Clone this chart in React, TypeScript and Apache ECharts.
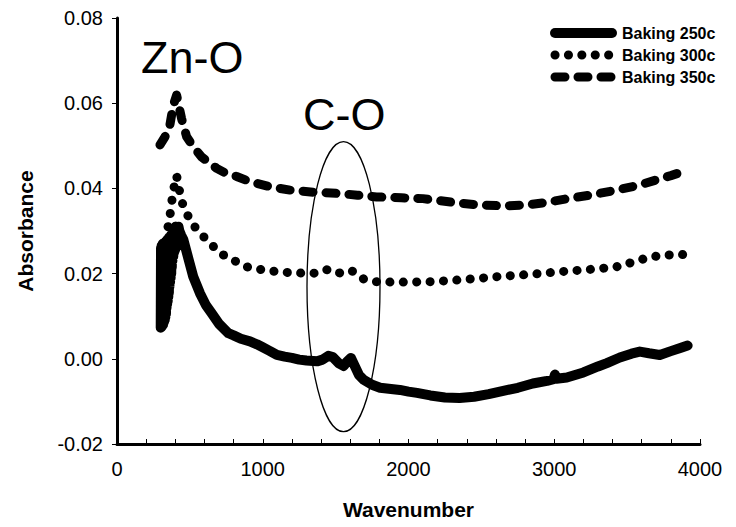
import React, { useEffect, useRef } from "react";
import * as echarts from "echarts";

const FONT = "'Liberation Sans', Arial, Helvetica, sans-serif";

const seriesNames = ["Baking 250c", "Baking 300c", "Baking 350c"];
const xRange = [0, 4000];
const yRange = [-0.02, 0.08];
const xTickStep = 1000;
const yTickStep = 0.02;
const annotationLabels = ["Zn-O", "C-O"];

// Baking 250c (wavenumber, absorbance)
const baking250: [number, number][] = [
  [300, 0.0073], [302, 0.026], [304, 0.0074], [306, 0.0265], [308, 0.0076], [310, 0.026],
  [312, 0.0078], [314, 0.027], [316, 0.008], [318, 0.0265], [320, 0.0085], [322, 0.027],
  [324, 0.0088], [326, 0.0265], [328, 0.0092], [330, 0.027], [332, 0.0098], [334, 0.0275],
  [336, 0.0105], [338, 0.027], [340, 0.012], [342, 0.0275], [344, 0.0128], [346, 0.028],
  [348, 0.0135], [350, 0.0275], [352, 0.0145], [354, 0.028], [356, 0.0155], [358, 0.0285],
  [360, 0.017], [362, 0.028], [364, 0.018], [366, 0.0285], [368, 0.019], [370, 0.029],
  [372, 0.02], [374, 0.0285], [376, 0.0215], [378, 0.029], [380, 0.023], [383, 0.0295],
  [386, 0.024], [389, 0.03], [392, 0.025], [395, 0.0305], [398, 0.0255], [401, 0.031],
  [404, 0.026], [407, 0.031], [410, 0.027], [414, 0.0305], [418, 0.029], [422, 0.031],
  [428, 0.030], [440, 0.029], [455, 0.028], [490, 0.0235], [523, 0.0193], [569, 0.0154],
  [610, 0.0126], [649, 0.0107], [700, 0.0082], [764, 0.006], [800, 0.0055],
  [850, 0.0047], [912, 0.0041], [960, 0.0034], [1000, 0.0027], [1050, 0.0018], [1097, 0.0009],
  [1150, 0.0005], [1200, 0.0002], [1250, -0.0002], [1300, -0.0004], [1372, -0.0006],
  [1410, -0.0002], [1450, 0.0007], [1480, 0.0004], [1520, -0.001], [1555, -0.0017],
  [1580, -0.0006], [1605, 0.0002], [1630, -0.0016], [1660, -0.0038], [1692, -0.0049],
  [1750, -0.0061], [1805, -0.0068], [1880, -0.0071], [1941, -0.0073], [2000, -0.0077],
  [2058, -0.008], [2150, -0.0086], [2250, -0.0091], [2350, -0.0092], [2450, -0.0089],
  [2550, -0.0083], [2627, -0.0077], [2750, -0.0068], [2853, -0.0058], [2950, -0.0052],
  [2995, -0.0048], [3005, -0.0037], [3015, -0.0047], [3086, -0.0044], [3200, -0.0032],
  [3300, -0.0018], [3361, -0.001], [3450, 0.0003], [3530, 0.0012], [3587, 0.0017],
  [3650, 0.0013], [3724, 0.0009], [3800, 0.0018], [3870, 0.0026], [3915, 0.0031],
];

// Baking 300c
const baking300: [number, number][] = [
  [350, 0.031], [365, 0.034], [380, 0.038], [395, 0.041], [409, 0.043], [425, 0.040],
  [455, 0.0357], [512, 0.0319], [569, 0.0295], [638, 0.0272], [706, 0.0248], [796, 0.0232],
  [889, 0.0216], [1027, 0.0207], [1187, 0.0202], [1300, 0.0201], [1372, 0.0201],
  [1448, 0.021], [1500, 0.0203], [1541, 0.0201], [1610, 0.0207], [1650, 0.0196],
  [1694, 0.0187], [1781, 0.0181], [1900, 0.018], [2000, 0.018], [2147, 0.0181],
  [2300, 0.0184], [2490, 0.0189], [2650, 0.0194], [2833, 0.0198], [3059, 0.0205],
  [3290, 0.0211], [3427, 0.0216], [3500, 0.0223], [3564, 0.023], [3630, 0.0236],
  [3701, 0.0241], [3800, 0.0244], [3915, 0.0245],
];

// Baking 350c
const baking350: [number, number][] = [
  [295, 0.0502], [329, 0.0521], [363, 0.0549], [386, 0.0595], [409, 0.0619], [443, 0.0564],
  [478, 0.0521], [523, 0.0498], [580, 0.0474], [684, 0.0447], [750, 0.0435], [821, 0.0428],
  [912, 0.0416], [1049, 0.0404], [1187, 0.0396], [1350, 0.0391], [1530, 0.0388],
  [1650, 0.0384], [1781, 0.038], [1950, 0.0378], [2099, 0.0376], [2200, 0.0372],
  [2330, 0.0366], [2490, 0.0361], [2650, 0.0359], [2810, 0.0361], [2947, 0.0367],
  [3107, 0.0377], [3244, 0.0384], [3427, 0.0396], [3587, 0.0408], [3701, 0.042],
  [3800, 0.043], [3915, 0.0443],
];

export default function App() {
  const ref = useRef<HTMLDivElement>(null);
  useEffect(() => {
    if (!ref.current) return;
    const chart = echarts.init(ref.current, undefined, { renderer: "svg" });
    const common = {
      type: "line" as const,
      symbol: "none",
      smooth: false,
      silent: true,
      color: "#000",
    };
    chart.setOption({
      animation: false,
      backgroundColor: "#fff",
      grid: { left: 117, right: 36, top: 18, bottom: 83, containLabel: false },
      xAxis: {
        type: "value",
        min: xRange[0],
        max: xRange[1],
        interval: xTickStep,
        name: "Wavenumber",
        nameLocation: "middle",
        nameGap: 55,
        nameTextStyle: { fontFamily: FONT, fontSize: 21, fontWeight: "bold", color: "#000" },
        axisLine: { onZero: false, lineStyle: { color: "#000", width: 3 } },
        axisTick: { inside: true, length: 5, lineStyle: { color: "#000", width: 1 } },
        minorTick: { show: true, splitNumber: 5, length: 5, lineStyle: { color: "#000", width: 1 } },
        splitLine: { show: false },
        axisLabel: {
          margin: 15,
          fontFamily: FONT,
          fontSize: 20,
          color: "#000",
          formatter: (v: number) => String(Math.round(v)),
        },
      },
      yAxis: {
        type: "value",
        min: yRange[0],
        max: yRange[1],
        interval: yTickStep,
        name: "Absorbance",
        nameLocation: "middle",
        nameGap: 81,
        nameTextStyle: { fontFamily: FONT, fontSize: 21, fontWeight: "bold", color: "#000" },
        axisLine: { onZero: false, lineStyle: { color: "#000", width: 3 } },
        axisTick: { inside: false, length: 5, lineStyle: { color: "#000", width: 1 } },
        splitLine: { show: false },
        axisLabel: {
          margin: 14,
          fontFamily: FONT,
          fontSize: 20,
          color: "#000",
          formatter: (v: number) => (Math.abs(v) < 1e-9 ? 0 : v).toFixed(2),
        },
      },
      legend: {
        orient: "vertical",
        left: 550,
        top: 25,
        padding: 0,
        itemWidth: 57,
        itemHeight: 16,
        itemGap: 6,
        selectedMode: false,
        data: seriesNames,
        lineStyle: { width: "inherit" },
        itemStyle: { color: "rgba(0,0,0,0)", borderWidth: 0, opacity: 0 },
        textStyle: { fontFamily: FONT, fontSize: 16, fontWeight: "bold", color: "#000", padding: [0, 0, 0, 5] },
      },
      series: [
        {
          ...common,
          name: seriesNames[0],
          data: baking250,
          lineStyle: { color: "#000", width: 10, type: "solid", cap: "round", join: "round" },
        },
        {
          ...common,
          name: seriesNames[1],
          data: baking300,
          lineStyle: { color: "#000", width: 9, type: [0.1, 13.3], cap: "round", join: "round" },
        },
        {
          ...common,
          name: seriesNames[2],
          data: baking350,
          lineStyle: { color: "#000", width: 9, type: [10, 13], cap: "round", join: "round" },
        },
      ],
      graphic: [
        {
          type: "text",
          x: 141,
          y: 57,
          z: 10,
          style: {
            text: annotationLabels[0],
            font: `45px ${FONT}`,
            fill: "#000",
            textAlign: "left",
            textVerticalAlign: "middle",
          },
        },
        {
          type: "text",
          x: 303,
          y: 114,
          z: 10,
          style: {
            text: annotationLabels[1],
            font: `45px ${FONT}`,
            fill: "#000",
            textAlign: "left",
            textVerticalAlign: "middle",
          },
        },
        {
          type: "ellipse",
          z: 10,
          shape: { cx: 343.5, cy: 286.7, rx: 36.5, ry: 145 },
          style: { fill: "none", stroke: "#000", lineWidth: 1.3 },
        },
      ],
    });
    return () => chart.dispose();
  }, []);
  return (
    <div
      ref={ref}
      style={{ position: "absolute", left: 0, top: 0, width: 736, height: 527, background: "#fff" }}
    />
  );
}
